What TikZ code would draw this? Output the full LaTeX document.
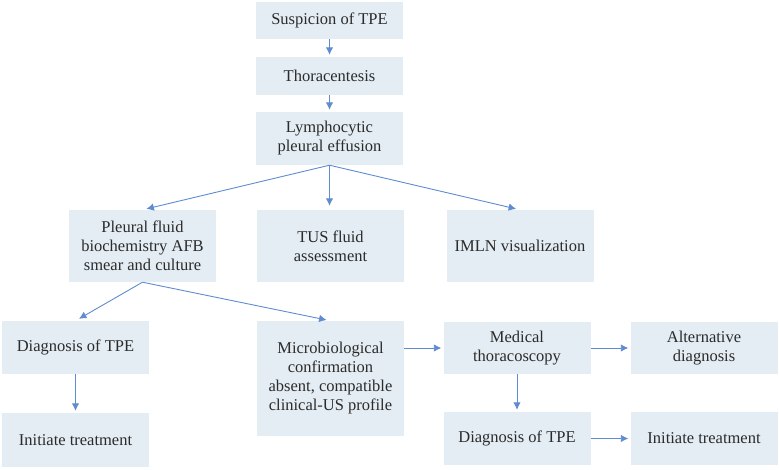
\documentclass[tikz,border=0pt]{standalone}
\usepackage{fontspec}
\setmainfont{Liberation Serif}
\usetikzlibrary{arrows.meta}
\definecolor{boxfill}{HTML}{E4EDF4}
\definecolor{linkblue}{HTML}{5F8BD0}
\definecolor{boxtext}{HTML}{2B2B2B}
\tikzset{>={Latex[length=7.5pt,width=7.5pt]}}
\tikzset{flowbox/.style={fill=boxfill, text=boxtext, minimum width=147pt,
    align=center, inner sep=2pt, font=\fontsize{16.5}{19}\selectfont}}
\tikzset{link/.style={->, linkblue, line width=0.9pt, shorten >=2pt}}
\begin{document}
\begin{tikzpicture}[x=1pt,y=-1pt]
  \useasboundingbox (0,0) rectangle (779,469);
  % top column
  \node[flowbox, minimum height=37pt] (susp) at (329.5,20.5) {Suspicion of TPE};
  \node[flowbox, minimum height=38pt] (thora) at (329.5,76) {Thoracentesis};
  \node[flowbox, minimum height=53pt] (lymph) at (329.5,138.5) {Lymphocytic\\pleural effusion};
  % second row
  \node[flowbox, minimum height=72pt] (pleural) at (142.5,246) {Pleural fluid\\biochemistry AFB\\smear and culture};
  \node[flowbox, minimum height=72pt] (tus) at (330.5,246) {TUS fluid\\assessment};
  \node[flowbox, minimum height=72pt] (imln) at (520,246) {IMLN visualization};
  % lower rows
  \node[flowbox, minimum height=53pt] (diagA) at (75.5,347.5) {Diagnosis of TPE};
  \node[flowbox, minimum height=54pt] (initA) at (75.5,440) {Initiate treatment};
  \node[flowbox, minimum height=115pt] (micro) at (330.5,378.5) {Microbiological\\confirmation\\absent, compatible\\clinical-US profile};
  \node[flowbox, minimum height=52pt] (medic) at (517,348) {Medical\\thoracoscopy};
  \node[flowbox, minimum height=52pt] (alt) at (704,348) {Alternative\\diagnosis};
  \node[flowbox, minimum height=53pt] (diagB) at (517,438.5) {Diagnosis of TPE};
  \node[flowbox, minimum height=53pt] (initB) at (704,438.5) {Initiate treatment};
  % connectors
  \draw[link] (susp) -- (thora);
  \draw[link] (thora) -- (lymph);
  \draw[link, shorten >=4pt] (lymph.south) -- (pleural.north);
  \draw[link, shorten >=4pt] (lymph.south) -- (lymph.south |- tus.north);
  \draw[link, shorten >=4pt] (lymph.south) -- (imln.north);
  \draw[link, shorten >=4pt] (pleural.south) -- (diagA.north);
  \draw[link, shorten >=4pt] (pleural.south) -- (micro.north);
  \draw[link] (diagA) -- (initA);
  \draw[link] (micro.east |- medic.west) -- (medic.west);
  \draw[link] (medic) -- (alt);
  \draw[link] (medic) -- (diagB);
  \draw[link] (diagB) -- (initB);
\end{tikzpicture}
\end{document}
